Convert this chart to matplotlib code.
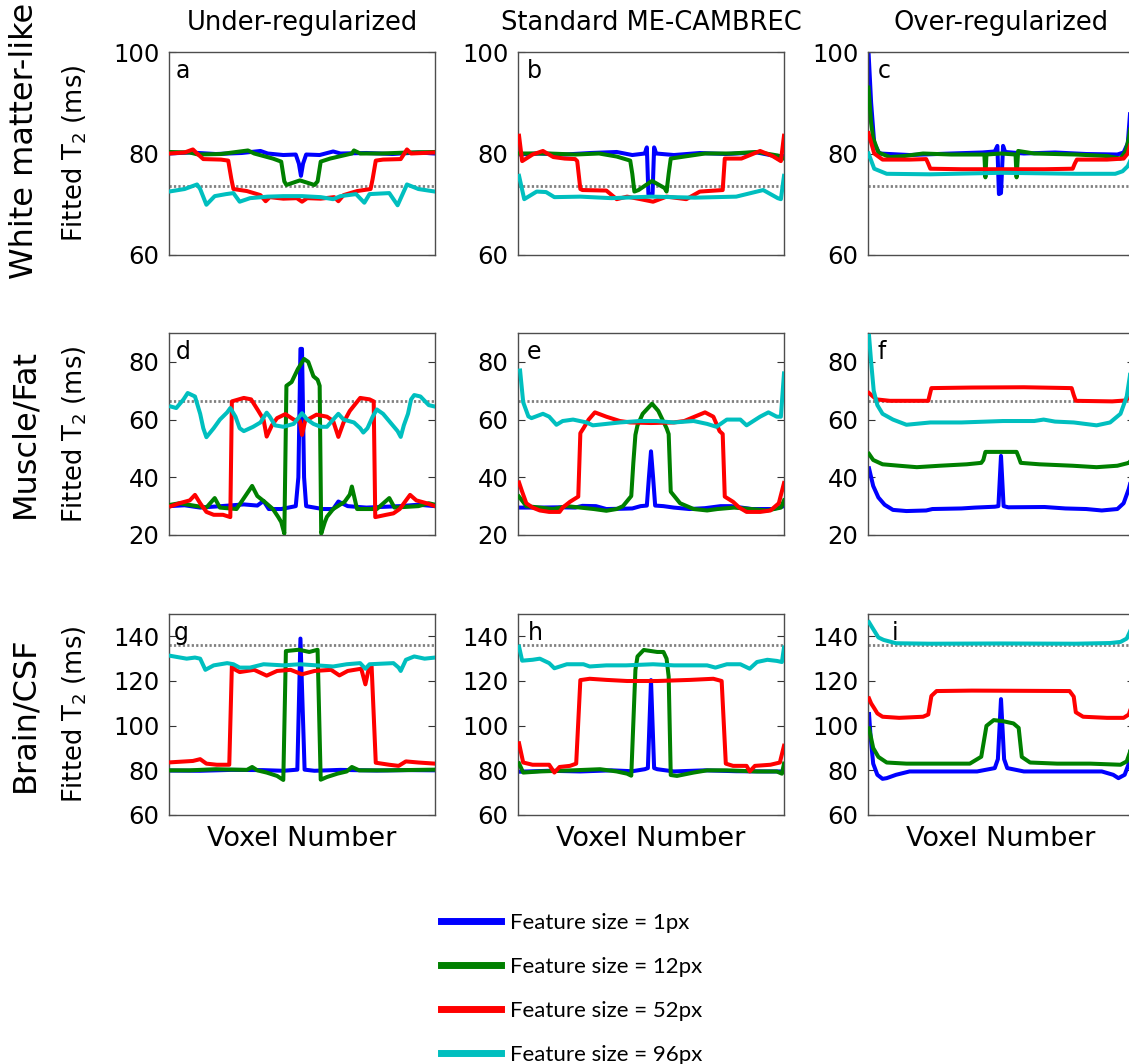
import matplotlib.pyplot as plt

# ---- data (voxel index 0-256, fitted T2 in ms) ----
# row 1: white matter-like
a_blue = [(0,80.0),(20,80.2),(45,79.9),(70,80.1),(88,80.5),(95,80.0),(110,79.7),(122,79.8),(125,78),(127,75.6),(129,78),(132,79.8),(145,79.7),(158,80.4),(165,80.0),(190,80.1),(215,79.9),(240,80.2),(256,80.0)]
a_green = [(0,80.3),(20,80.2),(28,79.8),(50,79.9),(76,80.6),(82,80.0),(100,79.0),(108,78.4),(111,74.5),(113,73.8),(126,74.7),(140,73.8),(143,74.5),(146,78.4),(155,79.0),(176,80.0),(178,80.6),(184,80.0),(205,80.0),(230,80.2),(256,80.3)]
a_red = [(0,80.0),(15,80.2),(23,80.8),(27,80.0),(33,78.9),(50,78.8),(57,78.6),(60,75),(62,73.0),(75,72.6),(88,71.8),(93,70.6),(97,71.4),(110,71.1),(123,71.2),(128,70.5),(133,71.2),(146,71.1),(159,71.4),(163,70.6),(168,71.8),(181,72.6),(194,73.0),(196,75),(199,78.6),(206,78.8),(223,78.9),(229,80.8),(233,80.0),(256,80.2)]
a_cyan = [(0,72.5),(15,73.0),(27,73.9),(30,73.0),(36,69.9),(44,71.6),(55,72.0),(62,72.2),(68,70.5),(78,71.2),(95,71.5),(110,71.6),(128,71.6),(146,71.4),(158,71.0),(165,71.6),(180,72.0),(188,70.3),(193,72.0),(212,72.2),(220,69.8),(229,73.9),(240,73.0),(256,72.5)]

b_blue = [(0,79.8),(20,80.0),(45,79.8),(70,80.1),(95,80.3),(110,79.7),(122,80.0),(124,81.2),(125.5,72),(127.5,71.8),(129.5,72),(131,81.2),(133,80.0),(150,79.7),(175,80.1),(200,79.9),(230,80.2),(245,79.6),(252,78.8),(256,79.5)]
b_green = [(2,80.0),(30,80.0),(55,79.8),(78,80.0),(95,79.4),(108,78.6),(110,76),(112,72.5),(116,72.8),(129,74.6),(141,73.2),(143,72.5),(145,76),(147,79.0),(160,79.4),(180,80.0),(205,80.0),(230,80.3),(250,79.6),(256,79.0)]
b_red = [(1,83.5),(4,78.5),(14,79.8),(24,80.5),(34,79.3),(45,79.0),(55,78.9),(57,78.5),(60,73),(62,72.8),(85,72.7),(95,71.0),(105,71.5),(118,71.0),(130,70.5),(143,71.5),(162,71.0),(175,72.5),(197,72.8),(199,79),(215,79.0),(233,80.5),(245,79.5),(253,78.5),(256,83.5)]
b_cyan = [(1,75.6),(6,71.0),(18,72.5),(27,72.4),(35,71.4),(60,71.5),(90,71.2),(128,71.5),(170,71.3),(210,71.5),(236,72.8),(250,71.2),(253,71.0),(256,75.6)]

c_blue = [(0.5,100),(3,90),(6,82),(11,80.0),(40,79.7),(80,80.0),(110,80.2),(122,80.4),(124.5,81.5),(126,72),(128,72.2),(130,81.5),(132,80.3),(150,80.0),(180,80.2),(210,79.9),(240,79.8),(246,80.2),(250,82),(253,90),(255.5,100)]
c_green = [(0.5,93),(3,86),(5,83),(10,80.2),(21,79.3),(35,79.5),(53,80.0),(80,79.8),(112,79.8),(113,75.3),(114,79.8),(128,80),(142,79.8),(143,75.3),(144.5,80.5),(160,80.0),(200,79.8),(230,79.5),(243,79.0),(248,80.5),(251,83),(253,86),(255.5,93)]
c_red = [(0.5,84),(6,80.0),(14,78.8),(40,78.8),(56,78.9),(58,78),(60,77.0),(90,76.9),(128,76.9),(170,76.9),(197,77.0),(199,78),(201,78.8),(230,78.8),(246,79.0),(250,80),(255.5,84)]
c_cyan = [(0.5,80),(6,77.0),(18,76.0),(60,75.9),(128,76.2),(200,76.0),(238,76.0),(245,76.5),(250,77.5),(255.5,80)]

# row 2: muscle/fat
d_blue = [(0,30),(15,30.3),(30,29.5),(50,30),(72,30.6),(85,30.2),(91,31.8),(96,29),(108,29.0),(115,29.5),(122,30),(124.5,40),(126.5,84.5),(128,84.5),(130,40),(132,30),(140,29.5),(148,29),(158,29),(163,31.6),(172,30),(190,29.5),(222,30),(240,30.5),(256,30)]
d_green = [(2,30.5),(10,31),(27,30),(36,29.5),(44,32.8),(49,29.5),(65,29),(80,37),(85,33.5),(92,31.5),(100,29),(105,26.3),(108,24.5),(111,20.5),(113,71.7),(118,73),(124,77.5),(130,81),(134,80),(139,75),(143,73.8),(145,71.7),(146.5,20.5),(150,24.5),(152,26.3),(158,29),(169,31.5),(174,34),(176,36.8),(181,29),(200,29),(212,32.8),(217,29.5),(240,30),(250,31),(256,30.5)]
d_red = [(2,30),(10,31),(20,32),(25,33.9),(30,31),(36,28),(43,27),(52,27),(59,26.2),(60.5,66.3),(72,67.5),(79,67),(86,63),(91,60),(94,54.1),(99,58),(104,60.5),(112,61.9),(120,60),(126,59.5),(128,54.7),(131,59.5),(142,61.7),(152,61),(158,59.5),(163,54),(168,59),(174,63),(184,67.5),(193,67),(197,66.3),(198.5,26.2),(209,27),(216,27.5),(222,29),(232,33.9),(238,32),(248,31),(256,30)]
d_cyan = [(2,64.5),(7,64),(14,67),(18,69.2),(25,68),(30,62),(33,57),(36,53.9),(43,57),(49,60),(56,62.5),(59,64),(64,61),(68,57),(72,56),(81,57.5),(88,59),(94,62.4),(97,61),(102,58),(110,57.5),(120,58.5),(128,62.2),(133,60),(139,58.5),(146,57.5),(152,57.5),(158,60),(163,62),(168,60),(178,59),(184,57),(187,55.5),(191,57),(196,61),(200,63.5),(206,62),(213,59),(220,56),(223,54),(226,58),(230,62),(233,67),(236,68.5),(242,68),(250,65),(256,64.5)]

e_blue = [(2,29.5),(20,29.5),(40,29.6),(55,29.5),(62,30.1),(75,30),(85,29.0),(100,29.1),(110,29.2),(118,30),(124,30.2),(126,40),(128,49),(130,40),(132,30.2),(140,30),(150,29.5),(165,29),(180,29.3),(195,30),(205,30),(225,29),(245,29),(256,30)]
e_green = [(1,33.3),(8,30),(21,29.5),(34,29),(47,30),(60,29.5),(73,29),(85,28.4),(95,29),(101,30),(109,33.5),(111,45),(113,54.7),(115,58),(120,62),(129,65.5),(135,63),(143,57),(145,55),(147,35),(156,31),(169,29),(182,28.5),(192,29),(208,29.5),(224,29),(240,28.5),(253,29.5),(256,32)]
e_red = [(1,38.2),(4,35),(8,31),(14,29.5),(21,28.5),(30,28),(40,28),(43,29.5),(50,31.5),(58,33.3),(60,55.3),(63,57),(68,60),(74,62.5),(85,61),(98,59.5),(108,59),(128,58.8),(150,59),(160,59.5),(170,61),(180,62.5),(188,61),(194,56),(197,55),(199,33.3),(207,31.5),(213,29.5),(220,28),(233,28),(243,28.5),(251,31),(256,38)]
e_cyan = [(2,77),(5,66),(10,61.1),(13,60.5),(24,62),(30,61),(37,58.2),(43,59.5),(53,60),(66,59),(72,58),(85,58.5),(98,59),(117,59.5),(133,59.5),(150,59),(169,59.5),(182,58.5),(191,57.5),(201,60),(214,60),(220,58),(233,61),(241,62.5),(249,61),(253,61),(256,76)]

f_blue = [(1,43.1),(5,37),(10,33),(16,30.5),(24,28.7),(37,28.3),(56,28.5),(62,29),(90,29.2),(103,29.5),(122,29.8),(125.5,30),(128,47.4),(130.5,30),(135,29.6),(170,29.7),(190,29.2),(210,29),(225,28.5),(240,29),(246,31),(251,36),(256,43)]
f_green = [(1,48.1),(5,46),(14,44.5),(30,44),(47,43.5),(69,44),(95,44.5),(109,45),(111,46),(113,48.8),(128,48.8),(143,48.8),(145,47),(147,45),(165,44.5),(197,44),(220,43.5),(240,44),(251,45),(256,47)]
f_red = [(1,69.2),(8,67),(21,66.5),(58,66.5),(59,68),(61,70.9),(100,71.1),(150,71.2),(196,70.9),(198,68.5),(200,66.5),(235,66.3),(247,66.6),(251,67.5),(256,69.2)]
f_cyan = [(1,89),(3,80),(5.5,70),(9,65),(14,62),(24,60),(37,58.2),(60,59),(90,59),(130,59.5),(160,59.5),(169,60),(180,59.3),(198,59),(220,58),(233,59),(243,62),(249,68),(252,75),(255,85)]

# row 3: brain/CSF
g_blue = [(2,79.9),(30,79.8),(60,80.2),(90,80.1),(110,79.8),(123.5,80.3),(126.5,139),(130.5,80.3),(140,79.8),(165,80.2),(200,79.9),(230,80.1),(256,80)]
g_green = [(1,80.0),(20,80.0),(45,80.5),(75,80.2),(80,81.5),(85,80),(94,79),(104,77.5),(110,75.7),(112.5,133.4),(125,134),(135,133),(143,134),(146,75.8),(152,77),(162,78.5),(171,79.5),(176,81.5),(183,80),(210,80),(256,80.3)]
g_red = [(2,83.6),(23,84.2),(30,85),(36,83),(46,82.5),(58,82.5),(60.5,126.7),(64,125),(68,124),(82,125),(94,122.4),(104,124.5),(117,125),(128,123),(140,124.5),(156,125),(164,122.5),(172,124.5),(185,125.5),(189,118.5),(192,125),(195,126.5),(199,83.4),(212,82.5),(221,82),(228,84),(240,83.5),(256,83)]
g_cyan = [(1,131.3),(17,130),(25,130.5),(30,130),(35,125),(43,127),(56,128),(62,127.5),(68,126),(78,126),(91,127.5),(110,127),(126,127.5),(142,127),(158,126.5),(171,127.5),(184,128),(189,125.5),(193,127.5),(216,128),(221,126),(223,124.5),(228,129.5),(236,131),(246,130),(256,130.5)]

h_blue = [(2,79.4),(30,79.8),(60,79.5),(90,80),(110,79.6),(122,80.5),(125,81),(128,120.4),(131,81),(134,80.5),(150,79.5),(180,80),(210,79.6),(240,79.5),(256,79.5)]
h_green = [(1,83.1),(5,79),(21,79.5),(53,80),(79,80.5),(95,79.5),(105,78.5),(109,77.6),(113,124.9),(115,131),(121,133.9),(134,133),(140,133),(143,130),(145,122),(147,77.9),(153,77.5),(169,79),(182,80),(201,80),(230,79.5),(249,79.5),(254,78.5),(256,83)]
h_red = [(1,92.1),(5,83.5),(14,82.5),(30,82.5),(35,79),(40,81.5),(50,82),(56,83),(60,120.4),(69,121),(85,120.5),(105,120),(134,120),(166,120.5),(188,121),(196,120),(200,83),(207,82),(220,82),(223,79.5),(228,82),(243,82.5),(252,83.5),(256,91)]
h_cyan = [(1,135.4),(4,129.1),(14,129.5),(21,130),(30,128),(35,125.7),(47,127.5),(63,127.5),(69,126.5),(85,127),(104,127),(130,127.5),(150,127),(182,127),(190,126),(201,127.5),(214,127.5),(223,125.5),(230,128.5),(240,129.5),(249,129),(254,128.5),(256,135)]

i_blue = [(1,105.2),(2.5,95),(5,83),(9,78),(14,76.2),(18,76.5),(27,78),(40,79.5),(70,79.5),(105,79.5),(122,81),(125,85),(128,111.9),(131,85),(134,81),(150,79.5),(190,79.5),(225,79.5),(236,78),(241,76.5),(247,78),(251,83),(255,100)]
i_green = [(1,98.8),(5,90),(10,86),(18,83.5),(37,83),(69,83),(98,83),(109,86.1),(114,99.9),(121,102.5),(130,102),(140,101),(145,99),(148,86),(156,83.5),(182,83),(214,83),(243,82.5),(249,84),(252,88),(256,98)]
i_red = [(1,112.2),(3,110),(6,107.8),(9,105.5),(14,104),(30,103.5),(53,104),(58,105),(61,113.3),(66,115.5),(100,115.7),(150,115.6),(194,115.5),(198,113),(200,106),(207,104),(230,103.5),(246,103.5),(251,105),(256,112)]
i_cyan = [(1,146.3),(4,144),(10,139.5),(15,138.4),(27,136.9),(60,136.7),(128,136.8),(200,136.7),(233,137),(243,137.5),(249,139),(252,142),(255.5,146)]

col_titles = ['Under-regularized', 'Standard ME-CAMBREC', 'Over-regularized']
row_names = ['White matter-like', 'Muscle/Fat', 'Brain/CSF']
row_ylims = [(60, 100), (20, 90), (60, 150)]
row_yticks = [[60, 80, 100], [20, 40, 60, 80], [60, 80, 100, 120, 140]]
true_t2 = [73.5, 66.6, 136.2]   # dotted reference line per row
panel_letters = ['a', 'b', 'c', 'd', 'e', 'f', 'g', 'h', 'i']
feature_sizes = ['1px', '12px', '52px', '96px']

panels = [[a_blue, a_green, a_red, a_cyan], [b_blue, b_green, b_red, b_cyan], [c_blue, c_green, c_red, c_cyan],
          [d_blue, d_green, d_red, d_cyan], [e_blue, e_green, e_red, e_cyan], [f_blue, f_green, f_red, f_cyan],
          [g_blue, g_green, g_red, g_cyan], [h_blue, h_green, h_red, h_cyan], [i_blue, i_green, i_red, i_cyan]]

colors = ['#0000ff', '#008000', '#ff0000', '#00bfbf']

W, H = 1129, 1064
col_left = [169, 518, 868]
col_w = 266
row_top = [52, 333, 614]
row_bot = [255, 535, 815]
letter_dx = [0.025, 0.033, 0.037, 0.025, 0.033, 0.037, 0.017, 0.037, 0.09]

fig = plt.figure(figsize=(W / 100, H / 100), dpi=100)
handles = []
for r in range(3):
    for c in range(3):
        k = r * 3 + c
        ax = fig.add_axes([col_left[c] / W, 1 - row_bot[r] / H, col_w / W, (row_bot[r] - row_top[r]) / H])
        ax.axhline(true_t2[r], color='0.5', ls=(0, (0.8, 0.8)), lw=2.0, zorder=1)
        for s, series in enumerate(panels[k]):
            xs = [p[0] for p in series]
            ys = [p[1] for p in series]
            ln, = ax.plot(xs, ys, color=colors[s], lw=2.9, zorder=2 + s)
            if k == 0:
                handles.append(ln)
        ax.set_xlim(0, 256)
        ax.set_ylim(*row_ylims[r])
        ax.set_yticks(row_yticks[r])
        ax.set_xticks([])
        ax.tick_params(axis='y', direction='in', length=5, right=True, labelsize=17.5, pad=7, color='0.2')
        for sp in ax.spines.values():
            sp.set_color('0.3')
            sp.set_linewidth(1.0)
        ax.text(letter_dx[k], 0.87, panel_letters[k], transform=ax.transAxes, fontsize=17, va='baseline')
        if r == 0:
            fig.text((col_left[c] + col_w / 2) / W, 1 - 30 / H, col_titles[c], ha='center', va='baseline', fontsize=18.5)
        if r == 2:
            fig.text((col_left[c] + col_w / 2) / W, 1 - 839 / H, 'Voxel Number', ha='center', va='center', fontsize=19.5)
    yc = (row_top[r] + row_bot[r]) / 2
    fig.text(25 / W, 1 - (141 if r == 0 else yc) / H, row_names[r], rotation=90, ha='center', va='center', fontsize=23)
    fig.text(75 / W, 1 - yc / H, 'Fitted T$_2$ (ms)', rotation=90, ha='center', va='center', fontsize=18.5)

leg = fig.legend(handles, ['Feature size = ' + f for f in feature_sizes], loc='upper left',
                 bbox_to_anchor=(441 / W, 1 - 913 / H), frameon=False, borderpad=0, borderaxespad=0,
                 handlelength=2.7, handletextpad=0.42, labelspacing=1.08,
                 prop={'family': 'Lato', 'size': 16})
for lh in leg.get_lines():
    lh.set_linewidth(5)

fig.savefig('out.png', dpi=100)
